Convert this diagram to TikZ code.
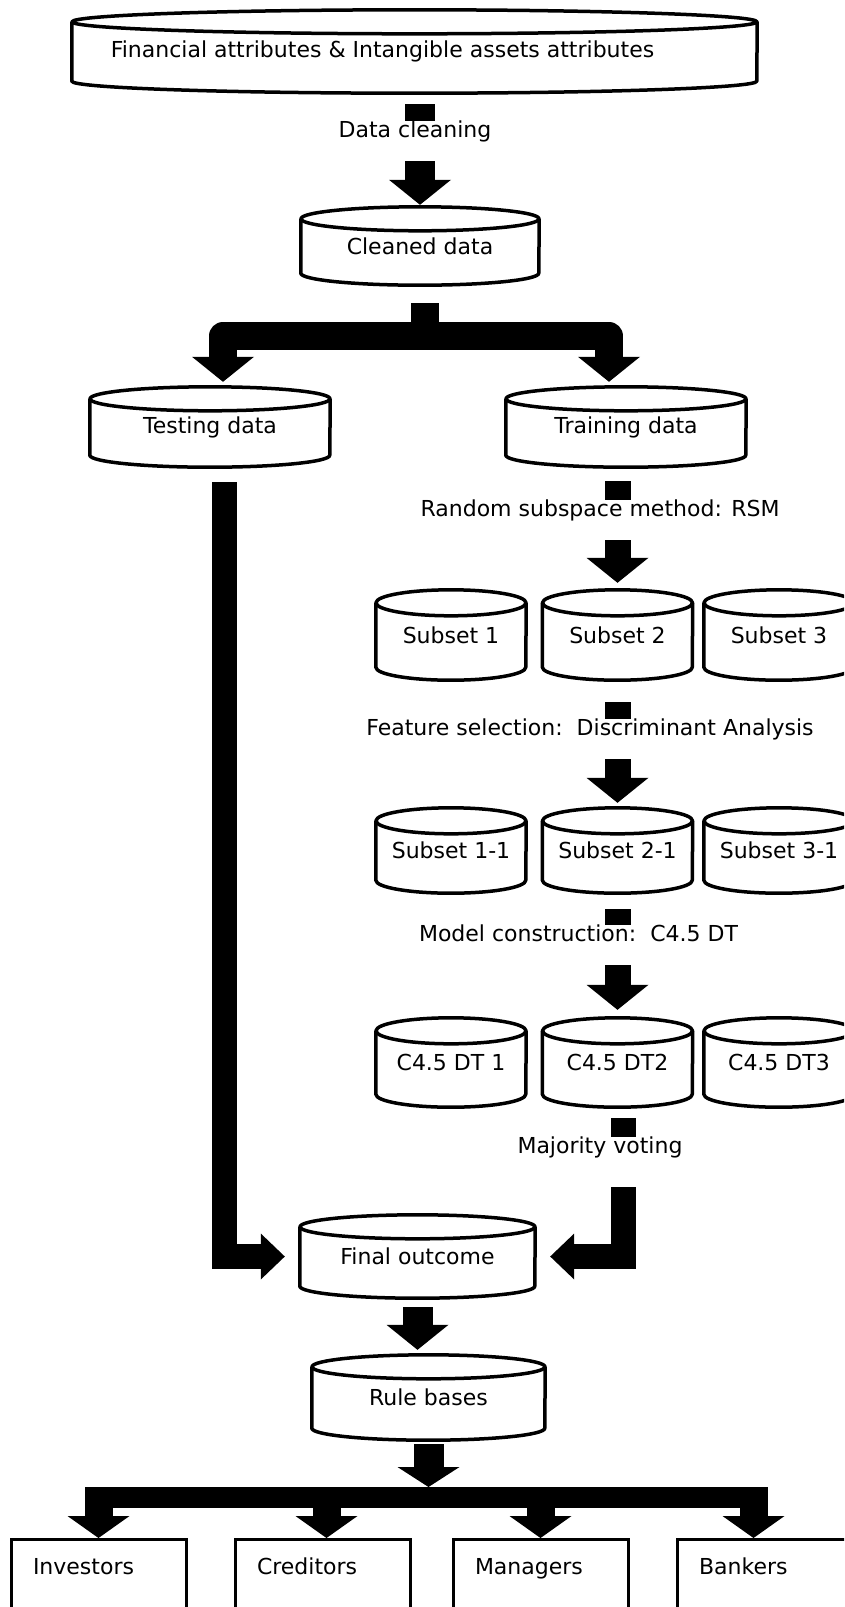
\documentclass[tikz,border=0pt]{standalone}
\usepackage{fontspec}
\setmainfont{DejaVu Sans}
\usetikzlibrary{arrows.meta}

\tikzset{
	every node/.style={font=\fontsize{22pt}{26pt}\selectfont},
	db/.style={rectangle, inner sep=0pt},
	dbline/.style={line width=3.5pt, line join=round},
	party/.style={draw, line width=3pt, anchor=north, text width=131pt, inner xsep=22pt, inner ysep=19pt, text height=16pt, text depth=90pt, align=left},
	lbl/.style={fill=white, anchor=north, inner xsep=2pt, inner ysep=0pt, text height=16pt, text depth=24pt},
	blk/.style={line width=30pt, -{Triangle[length=25pt, width=62pt, line width=0pt]}},
	ell/.style={line width=25pt, -{Triangle[length=24pt, width=46pt, line width=0pt]}},
	drop/.style={line width=28pt, -{Triangle[length=22pt, width=62pt, line width=0pt]}},
}

\begin{document}
\begin{tikzpicture}[x=1pt, y=-1pt]
	\useasboundingbox (0,0) rectangle (844,1607);
	\clip (0,0) rectangle (844,1607);

	\node[db, minimum width=685pt, minimum height=83pt] (src) at (414.5,51.5) {Financial attributes \& Intangible assets attributes\hspace*{64pt}};
	\node[db, minimum width=238pt, minimum height=78pt] (cln) at (420,246) {Cleaned data};
	\node[db, minimum width=240pt, minimum height=80pt] (tst) at (210,427) {Testing data};
	\node[db, minimum width=240pt, minimum height=80pt] (trn) at (626,427) {Training data};

	\node[db, minimum width=150pt, minimum height=90pt] (s1) at (451,635) {Subset 1};
	\node[db, minimum width=150pt, minimum height=90pt] (s2) at (617.5,635) {Subset 2};
	\node[db, minimum width=150pt, minimum height=90pt] (s3) at (779,635) {Subset 3};
	\node[db, minimum width=150pt, minimum height=85pt] (s11) at (451,850.5) {Subset 1-1};
	\node[db, minimum width=150pt, minimum height=85pt] (s21) at (617.5,850.5) {Subset 2-1};
	\node[db, minimum width=150pt, minimum height=85pt] (s31) at (779,850.5) {Subset 3-1};
	\node[db, minimum width=150pt, minimum height=89pt] (dt1) at (451,1062.5) {C4.5 DT 1};
	\node[db, minimum width=150pt, minimum height=89pt] (dt2) at (617.5,1062.5) {C4.5 DT2};
	\node[db, minimum width=150pt, minimum height=89pt] (dt3) at (779,1062.5) {C4.5 DT3};

	\node[db, minimum width=235pt, minimum height=83pt] (fin) at (417.5,1256.5) {Final outcome};
	\node[db, minimum width=233pt, minimum height=85pt] (rul) at (428.5,1397.5) {Rule bases};

	\node[party] (inv) at (98.5,1538) {Investors};
	\node[party] (cred) at (322.5,1538) {Creditors};
	\node[party] (mgr) at (540.5,1538) {Managers};
	\node[party] (bank) at (764.5,1538) {Bankers};

	\foreach \n/\rx/\ry in {src/342.5/12, cln/119/12, tst/120/12, trn/120/12, s1/75/13, s2/75/13, s3/75/13, s11/75/13, s21/75/13, s31/75/13, dt1/75/13, dt2/75/13, dt3/75/13, fin/117.5/12, rul/116.5/12}{
		\draw[dbline] ([yshift=-\ry pt]\n.north west) -- ([yshift=\ry pt]\n.south west)
			arc[start angle=180, end angle=360, x radius=\rx pt, y radius=\ry pt]
			-- ([yshift=-\ry pt]\n.north east);
		\draw[dbline] ([yshift=-\ry pt]\n.north) ellipse[x radius=\rx pt, y radius=\ry pt];
	}

	\coordinate (split) at (425,336);
	\coordinate (bus) at (430,1497.5);
	\coordinate (bustop) at (430,1487);

	\draw[blk, shorten <=11pt, shorten >=2pt] (cln.north |- src.south) -- (cln.north);
	\draw[blk, line width=28pt, line join=round, shorten <=18pt, shorten >=5pt] (split |- cln.south) -- (split) -| ([xshift=13pt]tst.north);
	\draw[blk, line width=28pt, line join=round, shorten <=18pt, shorten >=5pt] (split |- cln.south) -- (split) -| ([xshift=-17pt]trn.north);
	\draw[blk, line width=26pt, shorten <=14pt, shorten >=7pt] (s2.north |- trn.south) -- (s2.north);
	\draw[blk, line width=26pt, shorten <=22pt, shorten >=5pt] (s2.south) -- (s21.north);
	\draw[blk, line width=26pt, shorten <=16pt, shorten >=8pt] (s21.south) -- (dt2.north);
	\draw[ell, shorten <=11pt, shorten >=15pt] ([xshift=6pt]dt2.south) |- (fin.east);
	\draw[ell, shorten <=15pt, shorten >=15pt] ([xshift=14pt]tst.south) |- (fin.west);
	\draw[blk, shorten <=9pt, shorten >=5pt] (fin.south) -- (fin.south |- rul.north);
	\draw[blk, -{Triangle[length=20pt, width=62pt, line width=0pt]}, shorten <=4pt] (rul.south) -- (rul.south |- bustop);

	\draw[line width=21pt] (bus -| inv.north) -- (bus -| bank.north);
	\draw[drop] (bustop -| inv.north) -- (inv.north);
	\draw[drop] ([xshift=4pt]bustop -| cred.north) -- ([xshift=4pt]cred.north);
	\draw[drop] (bustop -| mgr.north) -- (mgr.north);
	\draw[drop] ([xshift=-11pt]bustop -| bank.north) -- ([xshift=-11pt]bank.north);

	\node[lbl] (clean) at (415,121) {Data cleaning};
	\node[lbl] (rsm) at (600,500) {Random subspace method: RSM};
	\node[lbl] (fsel) at (590,719) {Feature selection:\ \ Discriminant Analysis};
	\node[lbl] (mcon) at (578.5,925) {Model construction:\ \ C4.5 DT};
	\node[lbl, text depth=34pt] (vote) at (600,1137) {Majority voting};
\end{tikzpicture}
\end{document}
